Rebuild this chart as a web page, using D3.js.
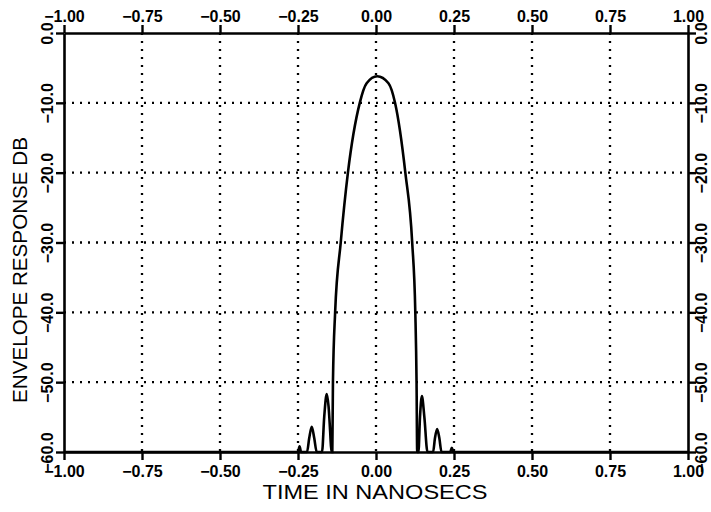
<!DOCTYPE html>
<meta charset="utf-8">
<style>
  body { margin: 0; background: #fff; }
  text { font-family: "Liberation Sans", Arial, sans-serif; fill: #000; }
</style>
<svg width="711" height="512"></svg>
<script src="https://cdn.jsdelivr.net/npm/d3@7"></script>
<script>

	// envelope response (floored at -60 dB)
	var timeNs = [-1.0, -0.250, -0.245, -0.240,
		-0.221, -0.214, -0.206, -0.198, -0.190,
		-0.173, -0.166, -0.158, -0.152, -0.147, -0.143,
		-0.140, -0.138, -0.131, -0.113, -0.090, -0.052, -0.030, 0.004,
		0.040, 0.061, 0.094, 0.116, 0.126, 0.130, 0.132,
		0.136, 0.141, 0.147, 0.155, 0.165,
		0.183, 0.189, 0.196, 0.203, 0.210,
		0.238, 0.243, 0.248, 1.0];
	var responseDb = [-60, -60, -59.2, -60,
		-60, -58, -56.4, -58, -60,
		-60, -55, -51.7, -53.5, -57, -60,
		-60, -50, -40, -30, -20, -10, -7.2, -6.2,
		-7.2, -10, -20, -30, -40, -50, -60,
		-60, -55, -52, -55, -60,
		-60, -58, -56.7, -58, -60,
		-60, -59.4, -60, -60];

	var xTicks = [-1, -0.75, -0.5, -0.25, 0, 0.25, 0.5, 0.75, 1];
	var xTickLabels = ["\u22121.00", "\u22120.75", "\u22120.50", "\u22120.25", "0.00", "0.25", "0.50", "0.75", "1.00"];
	var yTicks = [0, -10, -20, -30, -40, -50, -60];
	var yTickLabels = ["0.0", "\u221210.0", "\u221220.0", "\u221230.0", "\u221240.0", "\u221250.0", "\u221260.0"];

	var svg = d3.select("svg");

	var x = d3.scaleLinear().domain([-1, 1]).range([64, 688]);
	var y = d3.scaleLinear().domain([-60, 0]).range([452, 33]);

	// dotted grid
	svg.append("g").selectAll("line")
		.data(xTicks.slice(1, -1))
		.enter().append("line")
		.attr("x1", function(d){ return x(d); })
		.attr("x2", function(d){ return x(d); })
		.attr("y1", y(0)).attr("y2", y(-60))
		.attr("stroke", "#000").attr("stroke-width", 2.3)
		.attr("stroke-dasharray", "2,6");
	svg.append("g").selectAll("line")
		.data(yTicks.slice(1, -1))
		.enter().append("line")
		.attr("y1", function(d){ return y(d); })
		.attr("y2", function(d){ return y(d); })
		.attr("x1", x(-1)).attr("x2", x(1))
		.attr("stroke", "#000").attr("stroke-width", 2.3)
		.attr("stroke-dasharray", "2,6");

	// the four axes
	function fmtX(d, i){ return xTickLabels[i]; }
	function fmtY(d, i){ return yTickLabels[i]; }

	var axBottom = svg.append("g").attr("transform", "translate(0," + y(-60) + ")")
		.call(d3.axisBottom(x).tickValues(xTicks).tickFormat(fmtX).tickSize(8).tickSizeOuter(0));
	axBottom.selectAll("text").attr("y", 25).attr("dy", 0);

	var axTop = svg.append("g").attr("transform", "translate(0," + y(0) + ")")
		.call(d3.axisTop(x).tickValues(xTicks).tickFormat(fmtX).tickSize(8).tickSizeOuter(0));
	axTop.selectAll("text").attr("y", -11).attr("dy", 0);

	var axLeft = svg.append("g").attr("transform", "translate(" + x(-1) + ",0)")
		.call(d3.axisLeft(y).tickValues(yTicks).tickFormat(fmtY).tickSize(8).tickSizeOuter(0));
	axLeft.selectAll("text")
		.attr("x", 0).attr("y", 0).attr("dy", 0)
		.attr("text-anchor", "middle")
		.attr("transform", "translate(-11,0) rotate(-90)");

	var axRight = svg.append("g").attr("transform", "translate(" + x(1) + ",0)")
		.call(d3.axisRight(y).tickValues(yTicks).tickFormat(fmtY).tickSize(8).tickSizeOuter(0));
	axRight.selectAll("text")
		.attr("x", 0).attr("y", 0).attr("dy", 0)
		.attr("text-anchor", "middle")
		.attr("transform", "translate(19,0) rotate(-90)");

	svg.selectAll(".domain").attr("stroke-width", 2.6);
	svg.selectAll(".tick line").attr("stroke-width", 2.4);
	svg.selectAll(".tick text")
		.style("font-size", "16px").style("font-weight", "bold")
		.style("font-family", "'Liberation Sans', Arial, sans-serif");

	// curve
	var line = d3.line()
		.x(function(d, i){ return x(timeNs[i]); })
		.y(function(d){ return y(d); })
		.curve(d3.curveMonotoneX);
	svg.append("path")
		.datum(responseDb)
		.attr("d", line)
		.attr("fill", "none").attr("stroke", "#000").attr("stroke-width", 2.6);

	// titles
	svg.append("text")
		.attr("x", 375).attr("y", 499)
		.attr("text-anchor", "middle")
		.attr("textLength", 225).attr("lengthAdjust", "spacingAndGlyphs")
		.style("font-size", "20px")
		.text("TIME IN NANOSECS");
	svg.append("text")
		.attr("transform", "translate(27,270) rotate(-90)")
		.attr("text-anchor", "middle")
		.attr("textLength", 266).attr("lengthAdjust", "spacingAndGlyphs")
		.style("font-size", "20px")
		.text("ENVELOPE RESPONSE DB");
</script>
